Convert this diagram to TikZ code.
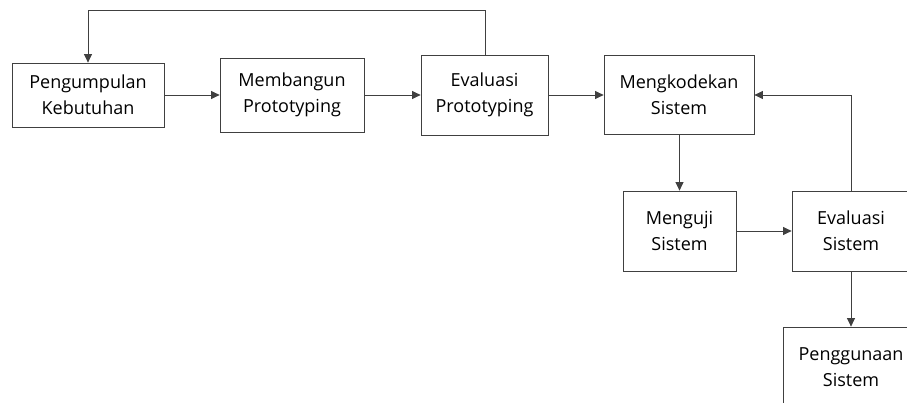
\documentclass[tikz,border=0pt]{standalone}
\usepackage{fontspec}
\setmainfont{Open Sans}
\usepackage{tikz}
\usetikzlibrary{arrows.meta}
\tikzstyle{box} = [draw=black!75, line width=0.8pt, inner sep=0pt, align=center, font=\fontsize{18}{26}\selectfont]
\tikzstyle{arrow} = [line width=0.8pt, draw=black!75, -{Triangle[length=8.5pt,width=8pt]}]

\begin{document}
\begin{tikzpicture}[x=1pt, y=-1pt]
	\useasboundingbox (0,0) rectangle (907,403);
	\clip (0,0) rectangle (907,403);
	\node[box, minimum width=152pt, minimum height=64pt] (kebutuhan) at (88,95) {Pengumpulan\\Kebutuhan};
	\node[box, minimum width=144pt, minimum height=74pt] (bangun) at (292,95) {Membangun\\Prototyping};
	\node[box, minimum width=127pt, minimum height=80pt] (evalproto) at (484.5,95) {Evaluasi\\Prototyping};
	\node[box, minimum width=150pt, minimum height=79pt] (kode) at (679,94.5) {Mengkodekan\\Sistem};
	\node[box, minimum width=113pt, minimum height=80pt] (uji) at (679.5,231) {Menguji\\Sistem};
	\node[box, minimum width=118pt, minimum height=80pt] (evalsis) at (851,231) {Evaluasi\\Sistem};
	\node[box, minimum width=136pt, minimum height=80pt] (guna) at (851,367) {Penggunaan\\Sistem};
	\coordinate (atas) at (485,10);
	% alur utama
	\draw[arrow] (kebutuhan) -- (bangun);
	\draw[arrow] (bangun) -- (evalproto);
	\draw[arrow] (evalproto.east) -- (evalproto.east -| kode.west);
	\draw[arrow] (kode.south -| uji.north) -- (uji.north);
	\draw[arrow] (uji) -- (evalsis);
	\draw[arrow] (evalsis) -- (guna);
	% umpan balik
	\draw[arrow] (evalproto.north -| atas) -- (atas) -| (kebutuhan.north);
	\draw[arrow] (evalsis.north) |- (kode.east |- 0,95);
\end{tikzpicture}
\end{document}
